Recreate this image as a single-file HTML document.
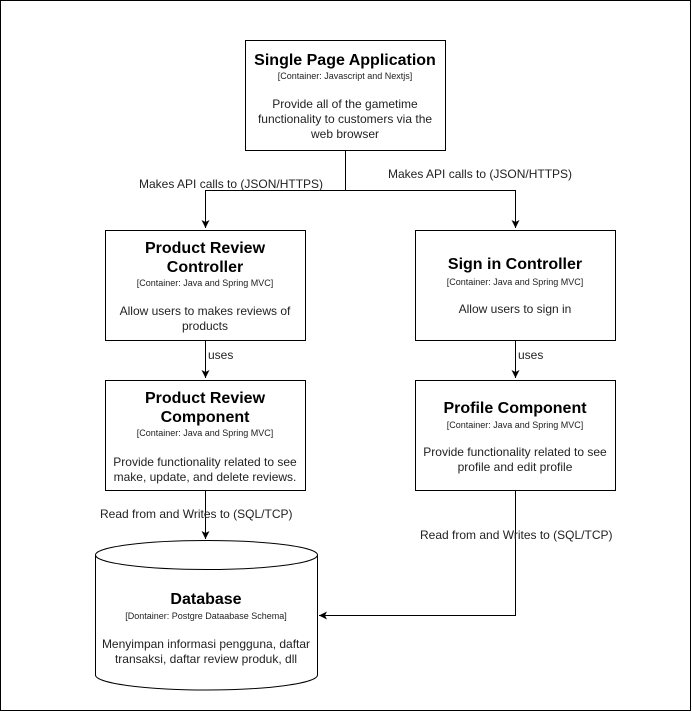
<!DOCTYPE html>
<html><head><meta charset="utf-8"><style>
html,body{margin:0;padding:0;background:#fff;}
svg{display:block;}
text{font-family:"Liberation Sans",Arial,sans-serif;fill:#000;}
.t{font-size:16px;font-weight:bold;text-anchor:middle;}
.s{font-size:9px;text-anchor:middle;fill:#222;}
.b{font-size:12px;text-anchor:middle;fill:#222;}
.l{font-size:12px;fill:#222;}
</style></head><body>
<svg width="692" height="712" viewBox="0 0 692 712" xmlns="http://www.w3.org/2000/svg">
<defs><marker id="a" markerWidth="10" markerHeight="10" refX="8" refY="5" orient="auto" markerUnits="userSpaceOnUse"><path d="M0,1 L8,5 L0,9 L2,5 z" fill="#000"/></marker></defs>
<rect x="0.5" y="0.5" width="690" height="710" fill="#fff" stroke="#000"/>
<g fill="#fff" stroke="#000" stroke-width="1">
<rect x="245.5" y="40.5" width="200" height="110"/>
<rect x="105.5" y="230.5" width="200" height="110"/>
<rect x="415.5" y="230.5" width="200" height="110"/>
<rect x="105.5" y="380.5" width="200" height="110"/>
<rect x="415.5" y="380.5" width="200" height="110"/>
<path d="M95.5,555 A111,14.5 0 0 1 317.5,555 L317.5,675 A111,15 0 0 1 95.5,675 Z"/>
<path d="M95.5,555 A111,14.5 0 0 0 317.5,555" fill="none"/>
</g>
<g stroke="#000" fill="none">
<path d="M345.5,150 V190.5 H205.5 V228" marker-end="url(#a)"/>
<path d="M345.5,190.5 H515.5 V228" marker-end="url(#a)"/>
<path d="M205.5,340 V378" marker-end="url(#a)"/>
<path d="M515.5,340 V378" marker-end="url(#a)"/>
<path d="M205.5,490 V539" marker-end="url(#a)"/>
<path d="M515.5,490 V615.5 H319" marker-end="url(#a)"/>
</g>
<text class="t" x="345" y="65">Single Page Application</text>
<text class="s" x="345" y="79">[Container: Javascript and Nextjs]</text>
<text class="b" x="345" y="108">Provide all of the gametime</text>
<text class="b" x="345" y="123">functionality to customers via the</text>
<text class="b" x="345" y="138">web browser</text>

<text class="t" x="205" y="253">Product Review</text>
<text class="t" x="205" y="272">Controller</text>
<text class="s" x="205" y="286">[Container: Java and Spring MVC]</text>
<text class="b" x="205" y="315">Allow users to makes reviews of</text>
<text class="b" x="205" y="330">products</text>

<text class="t" x="515" y="269">Sign in Controller</text>
<text class="s" x="515" y="285">[Container: Java and Spring MVC]</text>
<text class="b" x="515" y="313">Allow users to sign in</text>

<text class="t" x="205" y="403">Product Review</text>
<text class="t" x="205" y="422">Component</text>
<text class="s" x="205" y="436">[Container: Java and Spring MVC]</text>
<text class="b" x="205" y="466">Provide functionality related to see</text>
<text class="b" x="205" y="481">make, update, and delete reviews.</text>

<text class="t" x="515" y="413">Profile Component</text>
<text class="s" x="515" y="428">[Container: Java and Spring MVC]</text>
<text class="b" x="515" y="456">Provide functionality related to see</text>
<text class="b" x="515" y="471">profile and edit profile</text>

<text class="t" x="206" y="604">Database</text>
<text class="s" x="206" y="619">[Dontainer: Postgre Dataabase Schema]</text>
<text class="b" x="206" y="648">Menyimpan informasi pengguna, daftar</text>
<text class="b" x="206" y="663">transaksi, daftar review produk, dll</text>

<text class="l" x="139" y="188">Makes API calls to (JSON/HTTPS)</text>
<text class="l" x="388" y="178">Makes API calls to (JSON/HTTPS)</text>
<text class="l" x="208" y="359">uses</text>
<text class="l" x="518" y="359">uses</text>
<text class="l" x="100" y="518">Read from and Writes to (SQL/TCP)</text>
<text class="l" x="420" y="539">Read from and Writes to (SQL/TCP)</text>
</svg>
</body></html>
